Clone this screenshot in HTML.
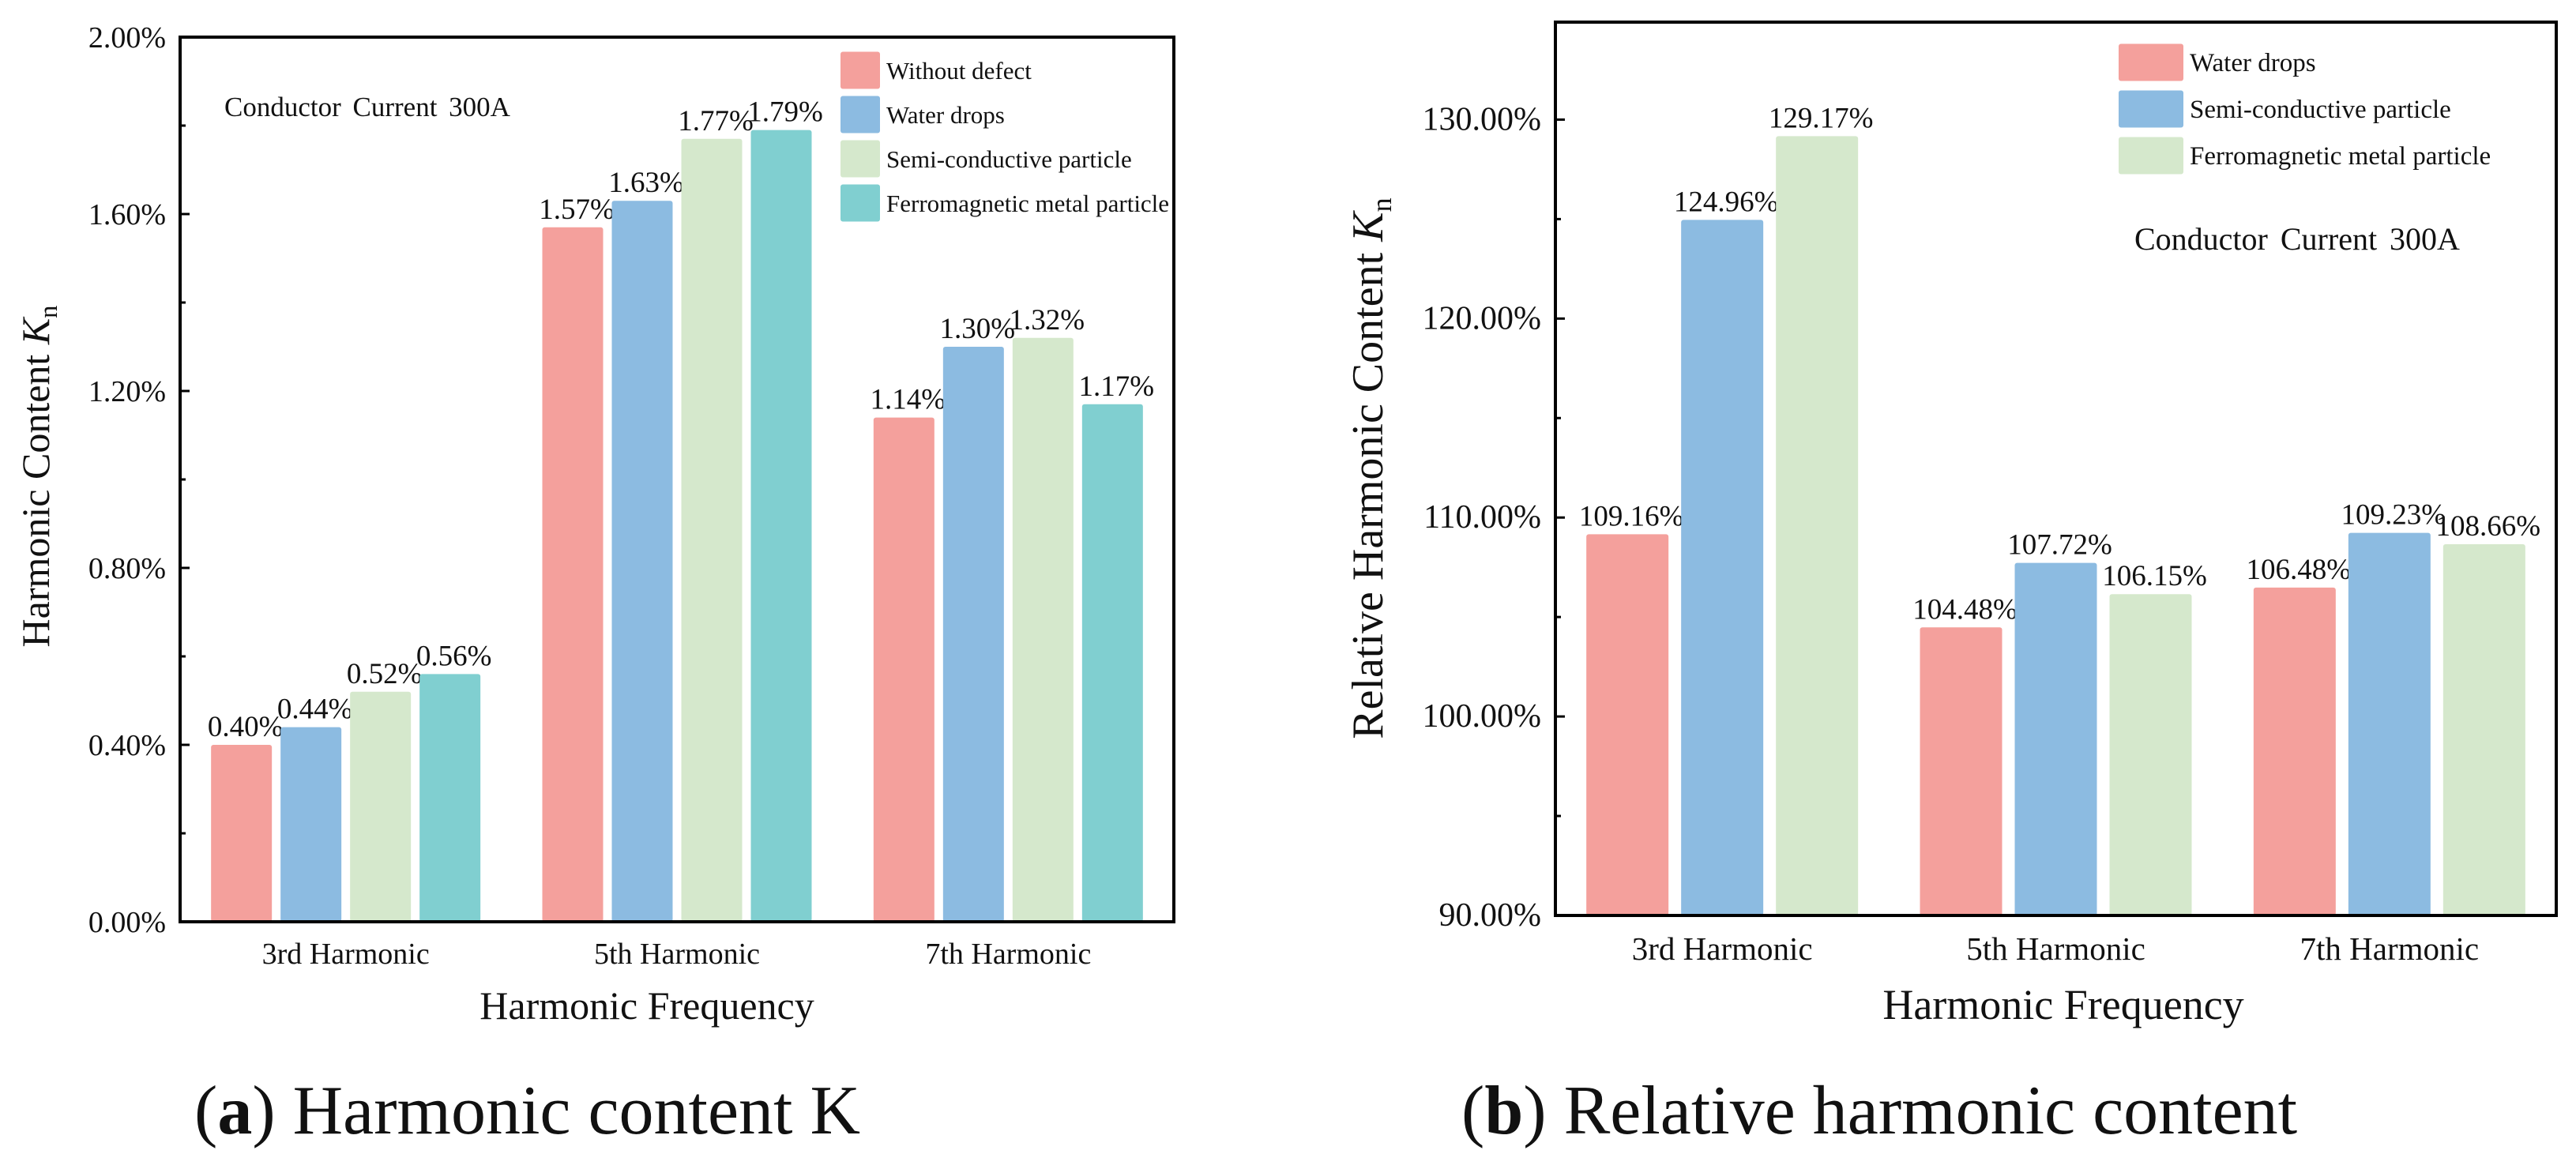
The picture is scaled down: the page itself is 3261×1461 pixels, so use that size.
<!DOCTYPE html>
<html><head><meta charset="utf-8"><style>
html,body{margin:0;padding:0;background:#fff;}
svg{display:block;font-family:"Liberation Serif",serif;}
</style></head><body>
<svg id="chart" width="3261" height="1461" viewBox="0 0 3261 1461" xmlns="http://www.w3.org/2000/svg">
<rect x="0" y="0" width="3261" height="1461" fill="#fff"/>
<g id="left"></g>
<g id="right"></g>
</svg>
<script>
// Chart (a) data
const catsA = ["3rd Harmonic","5th Harmonic","7th Harmonic"];
const seriesNamesA = ["Without defect","Water drops","Semi-conductive particle","Ferromagnetic metal particle"];
const valsA0 = [0.40,1.57,1.14];
const valsA1 = [0.44,1.63,1.30];
const valsA2 = [0.52,1.77,1.32];
const valsA3 = [0.56,1.79,1.17];
const ticksA = [0,0.4,0.8,1.2,1.6,2.0];
const tickLabelsA = ["0.00%","0.40%","0.80%","1.20%","1.60%","2.00%"];
// Chart (b) data
const catsB = ["3rd Harmonic","5th Harmonic","7th Harmonic"];
const seriesNamesB = ["Water drops","Semi-conductive particle","Ferromagnetic metal particle"];
const valsB0 = [109.16,104.48,106.48];
const valsB1 = [124.96,107.72,109.23];
const valsB2 = [129.17,106.15,108.66];
const ticksB = [90,100,110,120,130];
const tickLabelsB = ["90.00%","100.00%","110.00%","120.00%","130.00%"];

const NS="http://www.w3.org/2000/svg";
function mk(parent,tag,attrs,text){const e=document.createElementNS(NS,tag);for(const k in attrs)e.setAttribute(k,attrs[k]);if(text!==undefined)e.textContent=text;parent.appendChild(e);return e;}

function drawChart(g,o){
  const {L,R,T,B,ymin,ymax,cats,series,colors,names,ticks,tickLabels,minorStep,barW,pitch,fs,valFs,tickFs,catFs,legend,ann,ytitle,xtitle,caption,capBold,fmt} = o;
  const y=v=>B-(v-ymin)/(ymax-ymin)*(B-T);
  const gw=(R-L)/cats.length;
  const cx=i=>L+gw*(i+0.5);
  const n=series.length;
  series.forEach((vals,s)=>{
    vals.forEach((v,i)=>{
      const x=cx(i)+(s-(n-1)/2)*pitch-barW/2;
      const r=mk(g,'rect',{x:x,y:y(v),width:barW,height:B-y(v),fill:colors[s],rx:3});
      
      
      const t=mk(g,'text',{x:x+barW/2+5,y:y(v)-11,'font-size':valFs,'text-anchor':'middle',fill:'#111'},fmt(v));
      
      
    });
  });
  const fr=mk(g,'rect',{x:L,y:T,width:R-L,height:B-T,fill:'none',stroke:'#000','stroke-width':4});
  
  
  for(let v=ymin;v<=ymax+1e-9;v+=minorStep){
    const major=ticks.some(t=>Math.abs(t-v)<1e-6);
    mk(g,'line',{x1:L,x2:L+(major?12:7),y1:y(v),y2:y(v),stroke:'#000','stroke-width':3});
  }
  ticks.forEach((t,i)=>{
    const e=mk(g,'text',{x:L-18,y:y(t)+13,'font-size':tickFs,'text-anchor':'end',fill:'#111'},tickLabels[i]);
    
    
  });
  cats.forEach((c,i)=>{
    const e=mk(g,'text',{x:cx(i),y:o.catY,'font-size':catFs,'text-anchor':'middle',fill:'#111'},c);
    
    
  });
  const xt=mk(g,'text',{x:o.xtX,y:1290,'font-size':o.xtFs,'text-anchor':'middle',fill:'#111'},xtitle);
  
  
  const yt=mk(g,'text',{transform:`translate(${o.ytX},${o.ytY}) rotate(-90)`,'font-size':o.ytFs,'text-anchor':'middle',fill:'#111'});
  
  
  mk(yt,'tspan',{},ytitle+' ');
  mk(yt,'tspan',{'font-style':'italic'},'K');
  mk(yt,'tspan',{'font-size':o.ytFs*0.65,dy:o.ytFs*0.2},'n');
  names.forEach((nm,s)=>{
    const ly=legend.y0+s*legend.dy;
    const sw=mk(g,'rect',{x:legend.x,y:ly-legend.h/2,width:legend.w,height:legend.h,fill:colors[s],rx:3});
    
    
    const t=mk(g,'text',{x:legend.x+legend.w+8,y:ly+11,'font-size':legend.fs,fill:'#111'},nm);
    
    
  });
  const a=mk(g,'text',{x:ann.x,y:ann.y,'font-size':ann.fs,fill:'#111','word-spacing':'6'},'Conductor  Current  300A');
  
  
  const cp=mk(g,'text',{x:caption.x,y:1435,'font-size':88,fill:'#111'});
  
  
  mk(cp,'tspan',{},'(');
  mk(cp,'tspan',{'font-weight':'bold'},capBold);
  mk(cp,'tspan',{},') '+caption.text);
}

drawChart(document.getElementById('left'),{
  L:228,R:1486,T:47,B:1167,ymin:0,ymax:2.0,cats:catsA,series:[valsA0,valsA1,valsA2,valsA3],
  colors:['#f4a09c','#8cbbe1','#d5e8cc','#80cfd0'],names:seriesNamesA,ticks:ticksA,tickLabels:tickLabelsA,
  minorStep:0.2,barW:77,pitch:88,valFs:37,tickFs:38,catFs:38,catY:1220,
  xtitle:'Harmonic Frequency',xtX:819,xtFs:50,ytitle:'Harmonic Content',ytX:62,ytY:603,ytFs:50,
  legend:{x:1064,w:50,h:47,y0:89,dy:56,fs:31},ann:{x:284,y:147,fs:35},
  caption:{x:246,text:'Harmonic content K'},capBold:'a',fmt:v=>v.toFixed(2)+'%'
});
drawChart(document.getElementById('right'),{
  L:1969,R:3236,T:28,B:1159,ymin:90,ymax:134.9,cats:catsB,series:[valsB0,valsB1,valsB2],
  colors:['#f4a09c','#8cbbe1','#d5e8cc'],names:seriesNamesB,ticks:ticksB,tickLabels:tickLabelsB,
  minorStep:5,barW:104,pitch:120,valFs:37,tickFs:42,catFs:41,catY:1215,
  xtitle:'Harmonic Frequency',xtX:2612,xtFs:54,ytitle:'Relative Harmonic Content',ytX:1750,ytY:593,ytFs:56,
  legend:{x:2682,w:82,h:47,y0:79,dy:59,fs:33},ann:{x:2702,y:316,fs:40},
  caption:{x:1850,text:'Relative harmonic content'},capBold:'b',fmt:v=>v.toFixed(2)+'%'
});
</script>
</body></html>
